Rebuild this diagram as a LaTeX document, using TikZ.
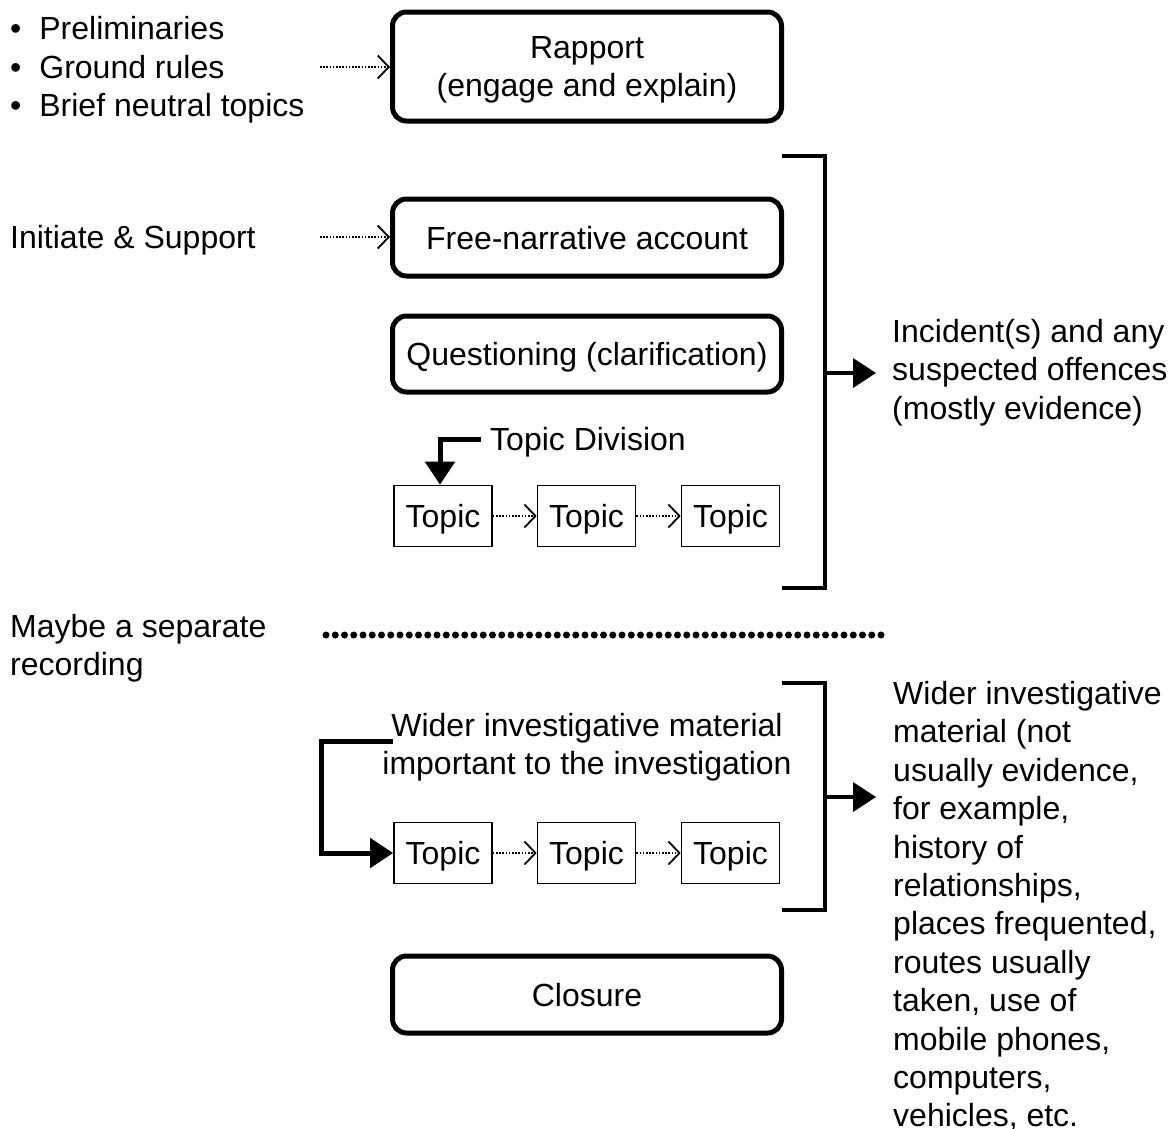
\documentclass[tikz,border=0pt]{standalone}
\usepackage{fontspec}
\setmainfont{Liberation Sans}
\usetikzlibrary{arrows.meta}
\begin{document}
\begin{tikzpicture}[x=1pt,y=-1pt,
  every node/.style={font=\fontsize{32}{38.4}\selectfont, inner sep=0pt},
  bigbox/.style={draw, line width=5pt, rounded corners=14pt, minimum width=389pt, align=center, text depth=0pt},
  topicbox/.style={draw, line width=1.6pt, minimum width=98pt, minimum height=61pt, text height=23pt, text depth=0pt},
  dotarrow/.style={line width=1.6pt, dash pattern=on 1.6pt off 1.6pt, -{Straight Barb[length=11pt,width=23pt,line width=1.8pt]}},
  thickarrow/.style={line width=4.5pt, -{Triangle[length=23pt,width=29pt]}},
  bracket/.style={line width=4pt},
  lefttext/.style={anchor=base west, align=left}]
\useasboundingbox (0,0) rectangle (1175,1128);
% left texts
\node[lefttext] (b1) at (10,39.5) {\textbullet\hspace{18pt}Preliminaries};
\node[lefttext] (b2) at (10,78.5) {\textbullet\hspace{18pt}Ground rules};
\node[lefttext] (b3) at (10,116.5) {\textbullet\hspace{18pt}Brief neutral topics};
\node[lefttext] (init) at (10,248.5) {Initiate \& Support};
\node[anchor=north west, align=left] (maybe) at (10,614) {Maybe a separate\\recording};
% big boxes
\node[bigbox, minimum height=109pt] (rapport) at (587,66.5) {Rapport\\(engage and explain)};
\node[bigbox, minimum height=77pt, text height=23pt] (free) at (587,237.5) {Free-narrative account};
\node[bigbox, minimum height=76pt, text height=23pt] (quest) at (587,354) {Questioning (clarification)};
\node[bigbox, minimum height=77pt, text height=23pt] (closure) at (587,994.5) {Closure};
% dotted arrows from left
\coordinate (s1) at (320,67);
\coordinate (s2) at (320,237);
\draw[dotarrow] (s1) -- (rapport.west |- s1);
\draw[dotarrow] (s2) -- (free.west |- s2);
% topic division
\node[anchor=base west] (tdiv) at (490,450.5) {Topic Division};
\node[topicbox] (t1) at (443,516) {Topic};
\node[topicbox] (t2) at (586.5,516) {Topic};
\node[topicbox] (t3) at (730.5,516) {Topic};
\draw[dotarrow] (t1) -- (t2);
\draw[dotarrow] (t2) -- (t3);
\coordinate (tdstart) at (481,439);
\draw[thickarrow, line width=5pt] (tdstart) -| ([xshift=-3pt]t1.north);
% bracket 1
\coordinate (br1a) at (782,156);
\coordinate (br1b) at (825,156);
\coordinate (br1c) at (825,588);
\coordinate (br1d) at (782,588);
\draw[bracket] (br1a) -- (br1b) -- (br1c) -- (br1d);
\coordinate (br1m) at (825,373);
\node[anchor=north west, align=left] (inc) at (892,319) {Incident(s) and any\\suspected offences\\(mostly evidence)};
\draw[thickarrow, line width=4pt] (br1m) -- (876,373);
% separator dotted line
\coordinate (sepa) at (326,635);
\coordinate (sepb) at (881,635);
\draw[line width=7pt, line cap=round, dash pattern=on 0pt off 9.25pt] (sepa) -- (sepb);
% second section
\node[align=center] (wider) at (587,747) {Wider investigative material\\important to the investigation};
\node[topicbox] (u1) at (443,853) {Topic};
\node[topicbox] (u2) at (586.5,853) {Topic};
\node[topicbox] (u3) at (730.5,853) {Topic};
\draw[dotarrow] (u1) -- (u2);
\draw[dotarrow] (u2) -- (u3);
\coordinate (lb1) at (393,741);
\coordinate (lb2) at (321,741);
\draw[thickarrow, line width=5pt] (lb1) -- (lb2) |- (u1.west);
% bracket 2
\coordinate (br2a) at (782,683);
\coordinate (br2b) at (825,683);
\coordinate (br2c) at (825,910);
\coordinate (br2d) at (782,910);
\draw[bracket] (br2a) -- (br2b) -- (br2c) -- (br2d);
\coordinate (br2m) at (825,797);
\draw[thickarrow, line width=4pt] (br2m) -- (876,797);
\node[anchor=north west, align=left] (widerr) at (893,681) {Wider investigative\\material (not\\usually evidence,\\for example,\\history of\\relationships,\\places frequented,\\routes usually\\taken, use of\\mobile phones,\\computers,\\vehicles, etc.};
\end{tikzpicture}
\end{document}
